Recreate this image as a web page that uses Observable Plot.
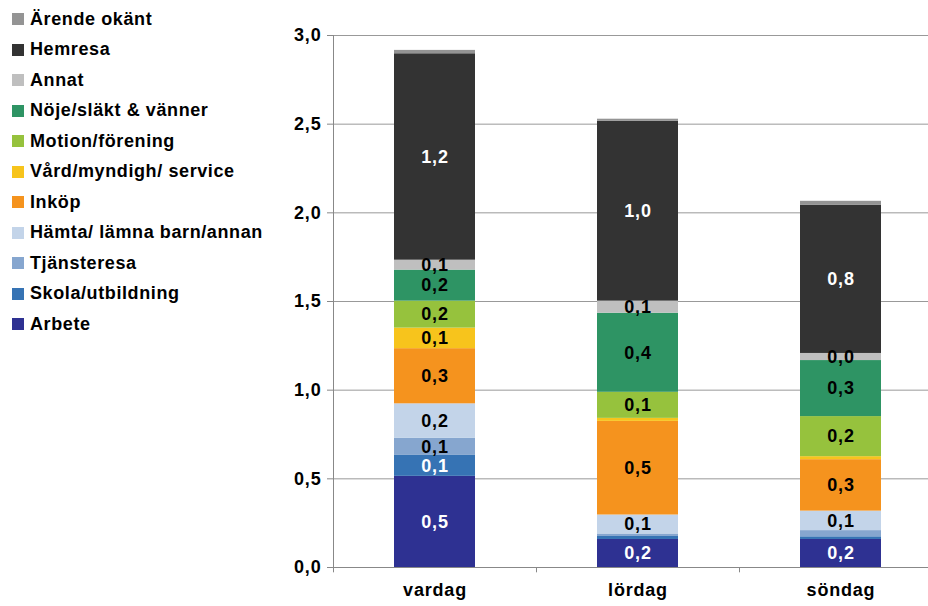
<!DOCTYPE html>
<html>
<head>
<meta charset="utf-8">
<script src="https://cdn.jsdelivr.net/npm/d3@7"></script>
<script src="https://cdn.jsdelivr.net/npm/@observablehq/plot@0.6"></script>
<style>
  html, body { margin: 0; padding: 0; background: #fff; overflow: hidden; }
  #wrap { position: relative; width: 928px; height: 606px; font-family: "Liberation Sans", Arial, sans-serif; }
  #legend { position: absolute; left: 0; top: 4px; z-index: 2; }
  .row { display: flex; align-items: center; height: 30.5px; }
  .sw { width: 12px; height: 12px; margin-left: 12px; margin-right: 6px; }
  .lab { font-size: 18px; font-weight: bold; letter-spacing: 0.6px; color: #000; white-space: nowrap; }
  #chart { position: absolute; left: 0; top: 0; }
</style>
</head>
<body>
<div id="wrap"><div id="legend"></div><div id="chart"></div></div>
<script>
// Categories (x)
const days = ["vardag", "lördag", "söndag"];
// Series, stacked bottom to top
const series = [
  "Arbete",
  "Skola/utbildning",
  "Tjänsteresa",
  "Hämta/ lämna barn/annan",
  "Inköp",
  "Vård/myndigh/ service",
  "Motion/förening",
  "Nöje/släkt & vänner",
  "Annat",
  "Hemresa",
  "Ärende okänt"
];
// Values per series for [vardag, lördag, söndag]
const arbete   = [0.514, 0.158, 0.158];
const skola    = [0.118, 0.017, 0.015];
const tjanst   = [0.096, 0.014, 0.035];
const hamta    = [0.195, 0.107, 0.110];
const inkop    = [0.311, 0.528, 0.290];
const vard     = [0.116, 0.017, 0.017];
const motion   = [0.152, 0.147, 0.226];
const noje     = [0.175, 0.446, 0.316];
const annat    = [0.056, 0.068, 0.040];
const hemresa  = [1.164, 1.015, 0.835];
const okant    = [0.019, 0.011, 0.023];
const values = [arbete, skola, tjanst, hamta, inkop, vard, motion, noje, annat, hemresa, okant];
// Colours per series (same order)
const colors = ["#2E3192", "#3673B4", "#86A6CF", "#C3D4E9", "#F5931E", "#F7C41C",
                "#96C23D", "#2E9464", "#BFBFBF", "#333333", "#949494"];
// Y tick values
const yTicks = [0, 0.5, 1.0, 1.5, 2.0, 2.5, 3.0];

const fmt = v => d3.format(".1f")(v).replace(".", ",");
const darkSeries = new Set(["Arbete", "Skola/utbildning", "Hemresa"]);
const minLabel = 0.038;

const table = [];
series.forEach((s, i) => days.forEach((d, j) => table.push({series: s, day: d, value: values[i][j]})));

// Legend (top to bottom = reverse stacking order)
const legend = document.getElementById("legend");
series.slice().reverse().forEach(s => {
  const row = document.createElement("div");
  row.className = "row";
  const sw = document.createElement("div");
  sw.className = "sw";
  sw.style.background = colors[series.indexOf(s)];
  const lab = document.createElement("div");
  lab.className = "lab";
  lab.textContent = s;
  row.appendChild(sw); row.appendChild(lab);
  legend.appendChild(row);
});

const plot = Plot.plot({
  width: 928,
  height: 606,
  marginLeft: 333,
  marginRight: 0,
  marginTop: 35,
  marginBottom: 39,
  style: {fontFamily: "'Liberation Sans', Arial, sans-serif", fontWeight: "bold", letterSpacing: "0.8px", background: "white", overflow: "hidden"},
  x: {domain: days, range: [333, 942], padding: 0},
  y: {domain: [0, 3]},
  color: {domain: series, range: colors},
  marks: [
    Plot.gridY(yTicks, {stroke: "#999", strokeOpacity: 1, strokeWidth: 1}),
    Plot.barY(table, {x: "day", y: "value", fill: "series", insetLeft: 61, insetRight: 61}),
    Plot.text(table, Plot.stackY({x: "day", y: "value", z: "series",
      text: d => (darkSeries.has(d.series) && d.value >= minLabel) ? fmt(d.value) : "",
      fill: "white", fontSize: 18, fontWeight: "bold"})),
    Plot.text(table, Plot.stackY({x: "day", y: "value", z: "series",
      text: d => (!darkSeries.has(d.series) && d.value >= minLabel) ? fmt(d.value) : "",
      fill: "black", fontSize: 18, fontWeight: "bold"})),
    Plot.frame({anchor: "left", stroke: "#888"}),
    Plot.frame({anchor: "bottom", stroke: "#888"}),
    Plot.ruleX(days, {x: d => d, dx: -101.5, y1: 0, y2: -0.03, stroke: "#888"}),
    Plot.axisY(yTicks, {tickFormat: fmt, tickSize: 6, tickPadding: 6, fontSize: 18, fontWeight: "bold", stroke: "#888", fill: "black", label: null}),
    Plot.axisX({tickSize: 0, tickPadding: 16, fontSize: 18, fontWeight: "bold", fill: "black", label: null})
  ]
});
document.getElementById("chart").appendChild(plot);
</script>
</body>
</html>
